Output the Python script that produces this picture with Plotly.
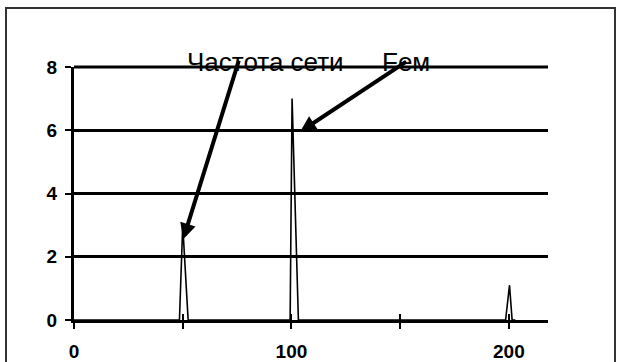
import plotly.graph_objects as go

# Spectrum samples: frequency (Hz) and amplitude
freq = [0, 48.5, 50, 52.5, 99.4, 100.3, 103.2, 198.5, 200.3, 201.5, 203]
amp = [0, 0, 3, 0, 0, 7, 0, 0, 1.1, 0, 0]

x_tick_vals = [0, 50, 100, 150, 200]
x_tick_text = ["0", "", "100", "", "200"]
y_tick_vals = [0, 2, 4, 6, 8]

labels = ["Частота сети", "Fем"]
label_x = [88, 152.5]
label_y = [8.15, 8.15]

X_MAX, Y_MAX = 218, 8
W, H = 621, 362
ML, MR, MT, MB = 74, 73, 67, 42
FONT = "Liberation Sans, Arial, sans-serif"

fig = go.Figure()
fig.add_trace(go.Scatter(
    x=freq, y=amp, mode="lines",
    line=dict(color="black", width=1.6),
    showlegend=False, hoverinfo="skip",
))
# invisible trace on the overlay axis so its ticks are laid out
fig.add_trace(go.Scatter(x=[0], y=[0], xaxis="x2", mode="markers",
                         marker=dict(opacity=0), showlegend=False, hoverinfo="skip"))

axis_font = dict(family=FONT, size=19, color="black", weight="bold")

fig.update_layout(
    width=W, height=H,
    margin=dict(l=ML, r=MR, t=MT, b=MB),
    paper_bgcolor="white", plot_bgcolor="white",
    font=dict(family=FONT, color="black"),
    xaxis=dict(
        range=[0, X_MAX], tickvals=x_tick_vals, ticktext=x_tick_text,
        ticks="outside", ticklen=6, tickwidth=2, tickcolor="black",
        showgrid=False, zeroline=False, automargin=False,
        showline=True, linecolor="black", linewidth=3,
        tickfont=axis_font, ticklabelstandoff=6,
    ),
    xaxis2=dict(
        range=[0, X_MAX], tickvals=x_tick_vals, overlaying="x",
        ticks="inside", ticklen=6, tickwidth=2, tickcolor="black",
        showticklabels=False, showgrid=False, zeroline=False, showline=False,
        automargin=False,
    ),
    yaxis=dict(
        range=[0, Y_MAX], tickvals=y_tick_vals,
        ticks="outside", ticklen=6, tickwidth=2, tickcolor="black",
        showgrid=True, gridcolor="black", gridwidth=3,
        zeroline=False, automargin=False,
        showline=True, linecolor="black", linewidth=3,
        tickfont=axis_font, ticklabelstandoff=4,
    ),
)

# Top gridline at y=8 (drawn in paper space so it is not clipped)
fig.add_shape(type="line", xref="paper", yref="paper", x0=0, x1=1, y0=1, y1=1,
              line=dict(color="black", width=3))

# Text labels above the chart (vertical position in paper units so they stay visible)
for lx, ly, lt in zip(label_x, label_y, labels):
    fig.add_annotation(x=lx, y=ly / Y_MAX, xref="x", yref="paper", text=lt,
                       showarrow=False, yanchor="middle",
                       font=dict(family=FONT, size=26, color="black"))

# Arrows pointing at the peaks
fig.add_annotation(x=50.2, y=2.55, xref="x", yref="y", axref="x", ayref="y",
                   ax=76, ay=8.25, text="", showarrow=True,
                   arrowhead=2, arrowsize=0.8, arrowwidth=4, arrowcolor="black", standoff=0)
fig.add_annotation(x=104, y=5.95, xref="x", yref="y", axref="x", ayref="y",
                   ax=153.5, ay=8.2, text="", showarrow=True,
                   arrowhead=2, arrowsize=0.8, arrowwidth=4, arrowcolor="black", standoff=0)

# Outer frame of the chart area
pw = W - ML - MR
ph = H - MT - MB
fx0 = (6 - ML) / pw
fx1 = (615 - ML) / pw
fy1 = (H - MB - 8) / ph
fy0 = (H - MB - 372) / ph
fig.add_shape(type="rect", xref="paper", yref="paper",
              x0=fx0, x1=fx1, y0=fy0, y1=fy1,
              fillcolor="rgba(0,0,0,0)",
              line=dict(color="#333333", width=2))

fig.write_html("out.html")
